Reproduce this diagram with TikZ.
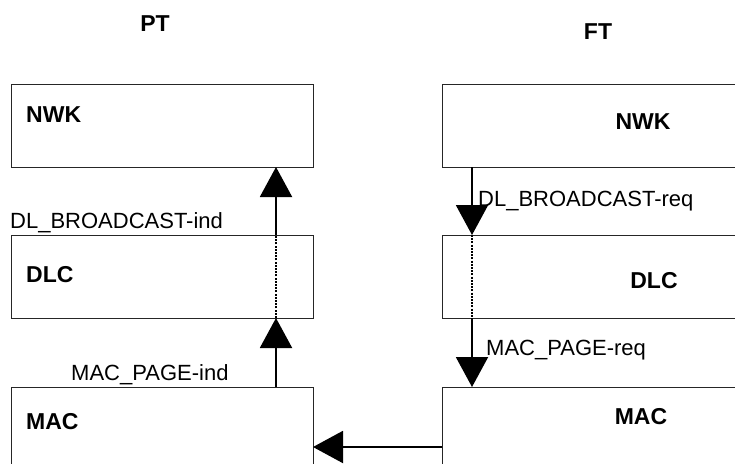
\documentclass[tikz,border=0pt]{standalone}
\usepackage{fontspec}
\setmainfont{Liberation Sans}
\usetikzlibrary{arrows.meta}
\begin{document}
\begin{tikzpicture}[x=1pt,y=-1pt,
  layer/.style={draw=black!85,line width=1.3pt,rectangle,anchor=north west,inner sep=0pt},
  title/.style={font=\fontsize{23}{25}\selectfont\bfseries,inner sep=0pt},
  lbl/.style={font=\fontsize{22}{24}\selectfont,inner sep=0pt,anchor=base west},
  flow/.style={line width=2pt,-{Triangle[width=32pt,length=30pt]}},
  thru/.style={line width=1.6pt,dash pattern=on 2pt off 1.2pt}]
\useasboundingbox (0,0) rectangle (735,463);
\clip (0,0) rectangle (735,463);
% left stack (PT)
\node[layer,minimum width=302pt,minimum height=83pt] (pnwk) at (11,84) {};
\node[layer,minimum width=302pt,minimum height=83pt] (pdlc) at (11,235) {};
\node[layer,minimum width=302pt,minimum height=110pt] (pmac) at (11,387) {};
% right stack (FT)
\node[layer,minimum width=330pt,minimum height=83pt] (fnwk) at (442,84) {};
\node[layer,minimum width=330pt,minimum height=83pt] (fdlc) at (442,235) {};
\node[layer,minimum width=330pt,minimum height=110pt] (fmac) at (442,387) {};
% titles
\node[title] (pt) at (155,23.5) {PT};
\node[title] (ft) at (598,32) {FT};
\node[title,anchor=west] (tpnwk) at (26,115) {NWK};
\node[title,anchor=west] (tpdlc) at (26,275) {DLC};
\node[title,anchor=west] (tpmac) at (26,422) {MAC};
\node[title] (tfnwk) at (643,122) {NWK};
\node[title] (tfdlc) at (654,281) {DLC};
\node[title] (tfmac) at (641,417) {MAC};
% primitive labels
\node[lbl] (l1) at (10,228) {DL\_BROADCAST-ind};
\node[lbl] (l2) at (71,380) {MAC\_PAGE-ind};
\node[lbl] (l3) at (478,206) {DL\_BROADCAST-req};
\node[lbl] (l4) at (486,355) {MAC\_PAGE-req};
% anchor coordinates on box edges
\coordinate (a1) at (276,387);
\coordinate (a2) at (276,318);
\coordinate (a3) at (276,235);
\coordinate (a4) at (276,167);
\coordinate (b1) at (472,167);
\coordinate (b2) at (472,235);
\coordinate (b3) at (472,318);
\coordinate (b4) at (472,387);
\coordinate (h1) at (442,447);
\coordinate (h2) at (313,447);
% PT upward
\draw[flow] (a1) -- (a2);
\draw[thru] (a2) -- (a3);
\draw[flow] (a3) -- (a4);
% FT downward
\draw[flow] (b1) -- (b2);
\draw[thru] (b2) -- (b3);
\draw[flow] (b3) -- (b4);
% FT MAC -> PT MAC
\draw[flow] (h1) -- (h2);
\end{tikzpicture}
\end{document}
